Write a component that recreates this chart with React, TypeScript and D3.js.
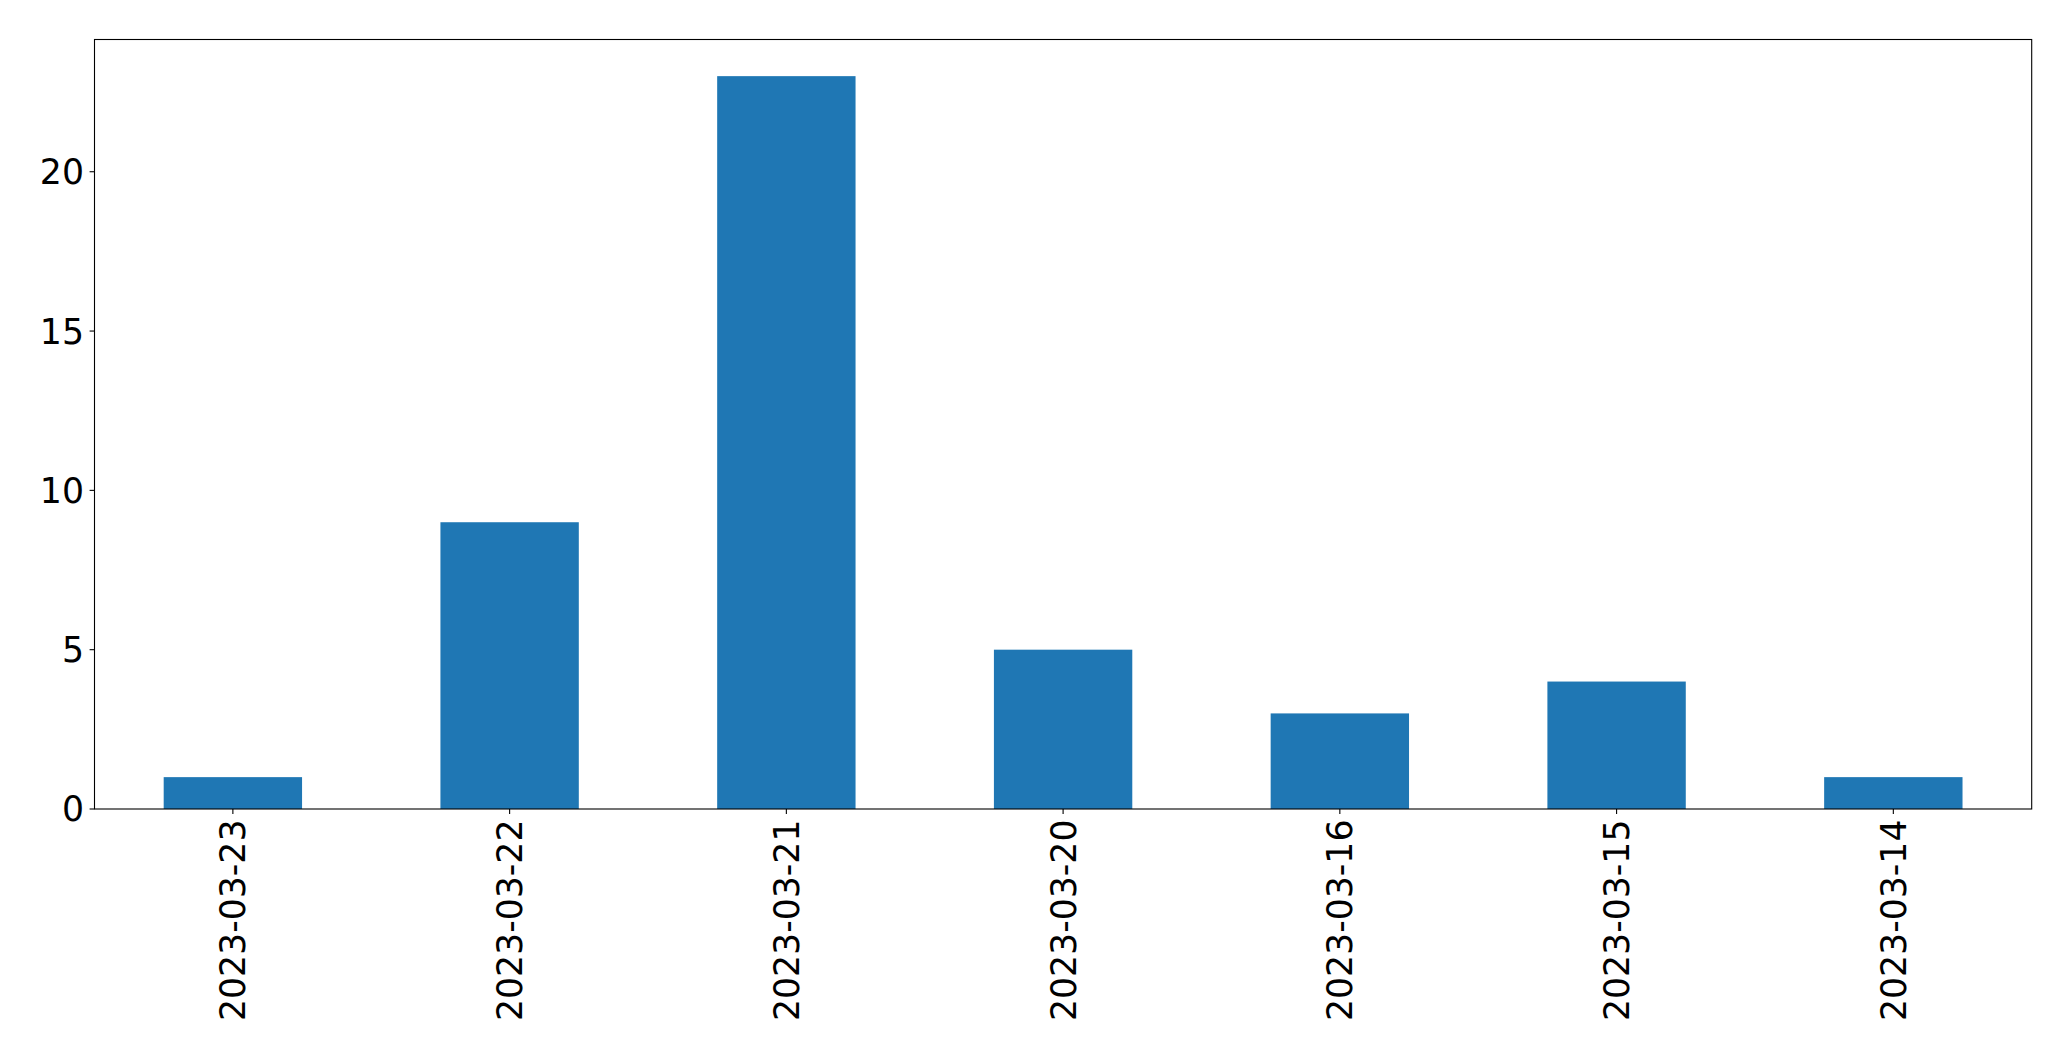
import React from "react";
import * as d3 from "d3";

const categories = ["2023-03-23", "2023-03-22", "2023-03-21", "2023-03-20", "2023-03-16", "2023-03-15", "2023-03-14"];
const counts = [1, 9, 23, 5, 3, 4, 1];
const yTicks = [0, 5, 10, 15, 20];

const W = 2071;
const H = 1061;
const M = { left: 94.5, right: 2031.7, top: 39.5, bottom: 809 };
const FONT = "'DejaVu Sans', sans-serif";
const FS = 34.7;

export default function App() {
  const x = d3.scaleLinear().domain([-0.5, categories.length - 0.5]).range([M.left, M.right]);
  const yMax = d3.max(counts)! * 1.05;
  const y = d3.scaleLinear().domain([0, yMax]).range([M.bottom, M.top]);
  const barW = x(0.25) - x(-0.25);

  return (
    <svg width={W} height={H} style={{ position: "absolute", left: 0, top: 0, background: "#fff" }}>
      <rect x={0} y={0} width={W} height={H} fill="#fff" />
      {counts.map((v, i) => (
        <rect key={i} x={x(i) - barW / 2} y={y(v)} width={barW} height={y(0) - y(v)} fill="#1f77b4" />
      ))}
      <rect x={M.left} y={M.top} width={M.right - M.left} height={M.bottom - M.top} fill="none" stroke="#000" strokeWidth={1.1} />
      {yTicks.map((t) => (
        <g key={t}>
          <line x1={M.left - 4.9} x2={M.left} y1={y(t)} y2={y(t)} stroke="#000" strokeWidth={1.1} />
          <text x={M.left - 10.5} y={y(t)} dy="0.36em" textAnchor="end" fontFamily={FONT} fontSize={FS} fill="#000">
            {t}
          </text>
        </g>
      ))}
      {categories.map((c, i) => (
        <g key={c}>
          <line x1={x(i)} x2={x(i)} y1={M.bottom} y2={M.bottom + 4.9} stroke="#000" strokeWidth={1.1} />
          <text
            transform={`translate(${x(i)},${M.bottom + 10.5}) rotate(-90)`}
            textAnchor="end"
            dy="0.36em"
            fontFamily={FONT}
            fontSize={FS}
            fill="#000"
          >
            {c}
          </text>
        </g>
      ))}
    </svg>
  );
}
